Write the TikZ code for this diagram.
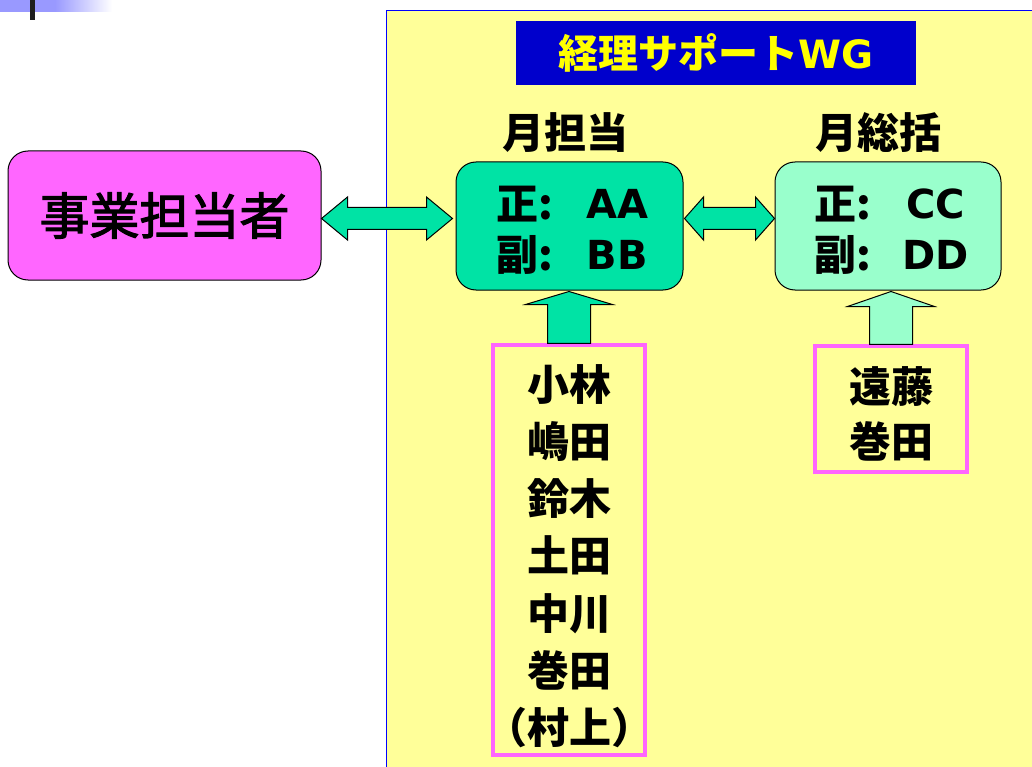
\documentclass[tikz,border=0pt]{standalone}
\usepackage{fontspec}
\newfontfamily\jp{Noto Sans CJK JP}
\newfontfamily\lat{DejaVu Sans}
\usetikzlibrary{calc}
\definecolor{panel}{HTML}{FFFF99}
\definecolor{grad}{HTML}{9999FF}
\definecolor{titleblue}{HTML}{0000CC}
\definecolor{titletext}{HTML}{FFFF00}
\definecolor{mag}{HTML}{FF66FF}
\definecolor{green1}{HTML}{00E3A5}
\definecolor{green2}{HTML}{99FFCC}
\newcommand{\strokedtext}[1]{\special{pdf:literal direct 2 Tr 1.1 w}#1\special{pdf:literal direct 0 Tr}}
\tikzset{
  rbox/.style={draw=black, line width=1pt, rounded corners=20, inner sep=0},
  namebox/.style={draw=mag, line width=3.5pt, fill=panel, inner sep=0},
  blockarrow/.style={draw=black, line width=1pt, line join=miter},
  cjk/.style={font=\jp\bfseries\fontsize{42}{50}\selectfont},
}
\begin{document}
\begin{tikzpicture}[x=1pt,y=-1pt]
\useasboundingbox (0,0) rectangle (1032,767);
\fill[white] (0,0) rectangle (1032,767);
% top-left decoration
\fill[grad] (0,0) rectangle (56,12);
\shade[left color=grad, right color=white] (55,0) rectangle (112,12);
\fill[black!88] (30,0) rectangle (35,20);
% panel
\draw[blue, fill=panel, line width=1.2pt] (386.5,10.5) rectangle (1045,780);
% title
\node[fill=titleblue, minimum width=400, minimum height=64, inner sep=0,
      text=titletext, font=\jp\bfseries\fontsize{40}{46}\selectfont] (title) at (716,53)
      {経理サポート{\lat\bfseries\fontsize{39}{46}\selectfont WG}};
% labels
\node[cjk] (lab1) at (565,133) {月担当};
\node[cjk] (lab2) at (878,133) {月総括};
% boxes
\node[rbox, fill=mag, minimum width=313, minimum height=129,
      font=\jp\fontsize{50}{58}\selectfont] (b1) at (164.5,215.5) {\strokedtext{事業担当者}};
\node[rbox, fill=green1, minimum width=227, minimum height=128] (b2) at (569.5,226) {};
\node[rbox, fill=green2, minimum width=226, minimum height=128] (b3) at (888,226) {};
% box texts
\node[cjk, anchor=west] (t1) at (493,204) {正:};
\node[font=\lat\bfseries\fontsize{40}{48}\selectfont, anchor=west] (t1b) at (583,204) {AA};
\node[cjk, anchor=west] (t2) at (493,255) {副:};
\node[font=\lat\bfseries\fontsize{40}{48}\selectfont, anchor=west] (t2b) at (583,255) {BB};
\node[cjk, anchor=west] (t3) at (811,204) {正:};
\node[font=\lat\bfseries\fontsize{40}{48}\selectfont, anchor=west] (t3b) at (903,204) {CC};
\node[cjk, anchor=west] (t4) at (811,255) {副:};
\node[font=\lat\bfseries\fontsize{40}{48}\selectfont, anchor=west] (t4b) at (899,255) {DD};
% name boxes
\node[namebox, minimum width=152, minimum height=410] (n1) at (569,550) {};
\node[namebox, minimum width=152, minimum height=126] (n2) at (891,409) {};
\node[font=\jp\bfseries\fontsize{42}{57.2}\selectfont, align=center] (n1t) at (569,556)
  {小林\\嶋田\\鈴木\\土田\\中川\\巻田\\（村上）};
\node[font=\jp\bfseries\fontsize{42}{55}\selectfont, align=center] (n2t) at (891,414)
  {遠藤\\巻田};
% double arrows
\coordinate (a1l) at (b1.east |- 0,218.5);
\coordinate (a1r) at ([xshift=-3pt]b2.west |- 0,218.5);
\draw[blockarrow, fill=green1] (a1l) -- ([shift={(26,-21.5)}]a1l) -- ([shift={(26,-11)}]a1l)
  -- ([shift={(-26,-11)}]a1r) -- ([shift={(-26,-21.5)}]a1r) -- (a1r)
  -- ([shift={(-26,21.5)}]a1r) -- ([shift={(-26,11)}]a1r) -- ([shift={(26,11)}]a1l)
  -- ([shift={(26,21.5)}]a1l) -- cycle;
\coordinate (a2l) at ([xshift=1pt]b2.east |- 0,218.5);
\coordinate (a2r) at (b3.west |- 0,218.5);
\draw[blockarrow, fill=green1] (a2l) -- ([shift={(19,-21.5)}]a2l) -- ([shift={(19,-11)}]a2l)
  -- ([shift={(-19,-11)}]a2r) -- ([shift={(-19,-21.5)}]a2r) -- (a2r)
  -- ([shift={(-19,21.5)}]a2r) -- ([shift={(-19,11)}]a2r) -- ([shift={(19,11)}]a2l)
  -- ([shift={(19,21.5)}]a2l) -- cycle;
% up arrows
\coordinate (u1t) at ([yshift=-1pt]n1.north |- b2.south);
\draw[blockarrow, fill=green1] (u1t) -- ([shift={(43.5,13)}]u1t) -- ([shift={(21.5,13)}]u1t)
  -- ([shift={(21.5,0)}]n1.north) -- ([shift={(-21.5,0)}]n1.north)
  -- ([shift={(-21.5,13)}]u1t) -- ([shift={(-43.5,13)}]u1t) -- cycle;
\coordinate (u2t) at ([yshift=-1pt]n2.north |- b3.south);
\draw[blockarrow, fill=green2] (u2t) -- ([shift={(43.5,15)}]u2t) -- ([shift={(21.5,15)}]u2t)
  -- ([shift={(21.5,0)}]n2.north) -- ([shift={(-21.5,0)}]n2.north)
  -- ([shift={(-21.5,15)}]u2t) -- ([shift={(-43.5,15)}]u2t) -- cycle;
\end{tikzpicture}
\end{document}
